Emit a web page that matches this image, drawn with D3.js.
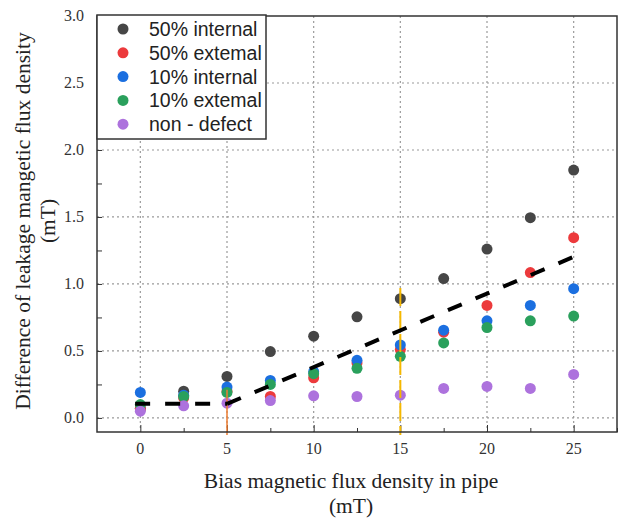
<!DOCTYPE html>
<html lang="en">
<head>
<meta charset="UTF-8">
<title>Leakage flux vs bias flux</title>
<script src="https://d3js.org/d3.v7.min.js"></script>
<style>
    body { margin: 0; background: #fff; }
    .grid line { stroke: #9a9a9a; stroke-width: 1.2; stroke-dasharray: 2,3; }
    .tick-label { font-family: "Liberation Serif", "Times New Roman", serif; font-size: 16px; fill: #333; }
    .axis-title { font-family: "Liberation Serif", "Times New Roman", serif; font-size: 21.5px; fill: #222; }
    .legend text { font-family: "Liberation Sans", Arial, sans-serif; font-size: 19.5px; fill: #222; }
</style>
</head>
<body>
<svg id="chart" width="623" height="525"></svg>
<script>
// bias flux density (mT)
const xVals = [0, 2.5, 5, 7.5, 10, 12.5, 15, 17.5, 20, 22.5, 25];
// leakage flux difference (mT)
const internal50 = [0.07, 0.20, 0.31, 0.495, 0.61, 0.755, 0.89, 1.04, 1.26, 1.495, 1.85];
const external50 = [0.07, 0.15, 0.20, 0.16, 0.30, 0.41, 0.51, 0.64, 0.84, 1.085, 1.345];
const internal10 = [0.19, 0.17, 0.23, 0.28, 0.345, 0.43, 0.545, 0.655, 0.725, 0.84, 0.965];
const external10 = [0.10, 0.16, 0.19, 0.25, 0.33, 0.37, 0.46, 0.56, 0.675, 0.725, 0.76];
const nonDefect = [0.05, 0.09, 0.11, 0.13, 0.165, 0.16, 0.17, 0.22, 0.235, 0.22, 0.325];

const seriesNames = ["50% internal", "50% extemal", "10% internal", "10% extemal", "non - defect"];
const seriesValues = [internal50, external50, internal10, external10, nonDefect];
const seriesColors = ["#464646", "#ec3a3c", "#1b6fe0", "#2aa05c", "#ad72dd"];

// dashed trend line, two pieces: flat then rising
const fitFlat = [[-0.3, 0.105], [5, 0.105]];
const fitRise = [[5, 0.105], [25.5, 1.23]];

// vertical marker lines
const markX = [5, 15];
const markTop = [0.21, 0.97];
const markColors = ["#ee7d31", "#f5b800"];

const xTicks = [0, 5, 10, 15, 20, 25];
const yTicks = [0, 0.5, 1.0, 1.5, 2.0, 2.5, 3.0];

const svg = d3.select("#chart");
const pLeft = 97, pRight = 617, pTop = 16, pBottom = 432;

const x = d3.scaleLinear().domain([-2.5, 27.5]).range([pLeft, pRight]);
const y = d3.scaleLinear().domain([-0.105, 3.0]).range([pBottom, pTop]);

// grid
const grid = svg.append("g").attr("class", "grid");
grid.selectAll(".gx").data(xTicks).enter().append("line")
    .attr("x1", d => x(d)).attr("x2", d => x(d))
    .attr("y1", pTop).attr("y2", pBottom);
grid.selectAll(".gy").data(yTicks.slice(0, -1)).enter().append("line")
    .attr("x1", pLeft).attr("x2", pRight)
    .attr("y1", d => y(d)).attr("y2", d => y(d));

// axes with inward ticks
const xAxis = svg.append("g")
    .attr("transform", `translate(0,${pBottom})`)
    .call(d3.axisTop(x).tickValues(d3.range(0, 27.6, 2.5)).tickSize(5).tickFormat(""));
xAxis.selectAll(".tick line").attr("y2", d => d % 5 === 0 ? -7 : -4).attr("stroke", "#333");
xAxis.select(".domain").remove();

const yAxis = svg.append("g")
    .attr("transform", `translate(${pLeft},0)`)
    .call(d3.axisRight(y).tickValues(d3.range(0, 3.01, 0.25)).tickSize(5).tickFormat(""));
yAxis.selectAll(".tick line").attr("stroke", "#333");
yAxis.select(".domain").remove();

svg.selectAll(".xlab").data(xTicks).enter().append("text")
    .attr("class", "tick-label")
    .attr("x", d => x(d)).attr("y", pBottom + 22)
    .attr("text-anchor", "middle")
    .text(d => d);

svg.selectAll(".ylab").data(yTicks).enter().append("text")
    .attr("class", "tick-label")
    .attr("x", pLeft - 13).attr("y", d => y(d) + 5)
    .attr("text-anchor", "end")
    .text(d => d.toFixed(1));

// points
seriesValues.forEach((vals, s) => {
    svg.append("g").selectAll("circle")
        .data(vals).enter().append("circle")
        .attr("cx", (d, i) => x(xVals[i]))
        .attr("cy", d => y(d))
        .attr("r", 5.5)
        .attr("fill", seriesColors[s]);
});

// vertical markers (drawn over the points)
svg.selectAll(".mark").data(markX).enter().append("line")
    .attr("x1", d => x(d)).attr("x2", d => x(d))
    .attr("y1", (d, i) => y(markTop[i])).attr("y2", pBottom + 3)
    .attr("stroke", (d, i) => markColors[i])
    .attr("stroke-width", (d, i) => i === 0 ? 1.5 : 2)
    .attr("stroke-dasharray", (d, i) => i === 0 ? null : "18,5");

// trend line
const fitLine = d3.line().x(d => x(d[0])).y(d => y(d[1]));
svg.selectAll(".fit").data([fitFlat, fitRise]).enter().append("path")
    .attr("d", fitLine)
    .attr("fill", "none")
    .attr("stroke", "#000")
    .attr("stroke-width", 4)
    .attr("stroke-dasharray", "15,15");

// frame
svg.append("rect")
    .attr("x", pLeft).attr("y", pTop)
    .attr("width", pRight - pLeft).attr("height", pBottom - pTop)
    .attr("fill", "none").attr("stroke", "#333").attr("stroke-width", 1.5);

// legend
const legend = svg.append("g").attr("class", "legend");
legend.append("rect")
    .attr("x", pLeft).attr("y", pTop - 1)
    .attr("width", 169).attr("height", 124)
    .attr("fill", "#fff").attr("stroke", "#333").attr("stroke-width", 1.5);
seriesNames.forEach((name, i) => {
    const ly = 29 + i * 23.8;
    legend.append("circle").attr("cx", 123).attr("cy", ly).attr("r", 5.5).attr("fill", seriesColors[i]);
    legend.append("text").attr("x", 149).attr("y", ly + 7).text(name);
});

// axis titles
svg.append("text").attr("class", "axis-title")
    .attr("x", 351).attr("y", 488).attr("text-anchor", "middle")
    .text("Bias magnetic flux density in pipe");
svg.append("text").attr("class", "axis-title")
    .attr("x", 351).attr("y", 513).attr("text-anchor", "middle")
    .text("(mT)");

const yt = svg.append("text").attr("class", "axis-title")
    .attr("transform", "translate(0,221) rotate(-90)")
    .attr("text-anchor", "middle");
yt.append("tspan").attr("x", 0).attr("y", 30).text("Difference of leakage mangetic flux density");
yt.append("tspan").attr("x", 0).attr("y", 55).text("(mT)");
</script>
</body>
</html>
